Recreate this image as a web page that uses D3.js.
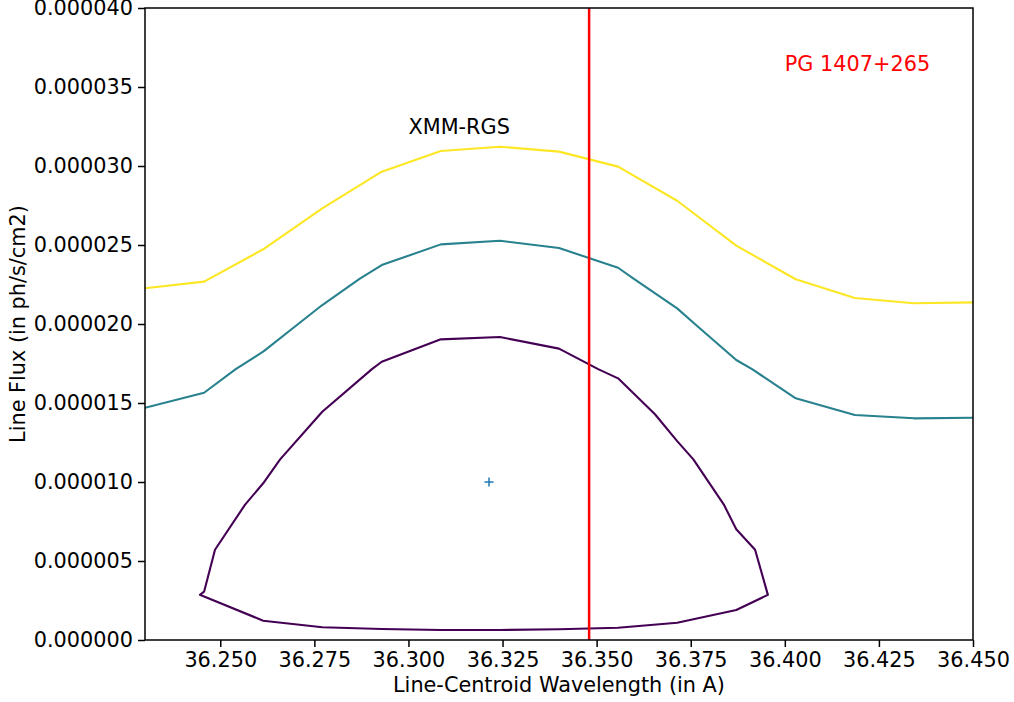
<!DOCTYPE html>
<html>
<head>
<meta charset="utf-8">
<script src="https://cdn.jsdelivr.net/npm/d3@7"></script>
<style>
  html, body { margin: 0; padding: 0; background: #fff; }
  svg { display: block; }
  text { font-family: "DejaVu Sans", sans-serif; }
</style>
</head>
<body>
<svg id="chart" width="1014" height="702"></svg>
<script>
// ---------- data ----------
const xDomain = [36.23, 36.45];
const yDomain = [0, 0.00004];
const xTicks = [36.250, 36.275, 36.300, 36.325, 36.350, 36.375, 36.400, 36.425, 36.450];
const yTicks = [0, 0.000005, 0.00001, 0.000015, 0.00002, 0.000025, 0.00003, 0.000035, 0.00004];

// outer contour (yellow)
const contourOuterX = [36.2300, 36.2457, 36.2614, 36.2771, 36.2929, 36.3086, 36.3243, 36.3400, 36.3557, 36.3714, 36.3871, 36.4029, 36.4186, 36.4343, 36.4500];
const contourOuterY = [2.226e-5, 2.268e-5, 2.473e-5, 2.732e-5, 2.964e-5, 3.095e-5, 3.122e-5, 3.091e-5, 2.996e-5, 2.780e-5, 2.496e-5, 2.283e-5, 2.165e-5, 2.131e-5, 2.137e-5];

// middle contour (teal)
const contourMiddleX = [36.2300, 36.2457, 36.2541, 36.2614, 36.2707, 36.2771, 36.2870, 36.2929, 36.3086, 36.3243, 36.3400, 36.3557, 36.3599, 36.3714, 36.3761, 36.3871, 36.3913, 36.4029, 36.4186, 36.4343, 36.4500];
const contourMiddleY = [1.470e-5, 1.565e-5, 1.714e-5, 1.825e-5, 2.000e-5, 2.120e-5, 2.286e-5, 2.373e-5, 2.504e-5, 2.527e-5, 2.481e-5, 2.356e-5, 2.286e-5, 2.099e-5, 2.000e-5, 1.772e-5, 1.714e-5, 1.530e-5, 1.424e-5, 1.403e-5, 1.407e-5];

// inner contour (purple, closed)
const contourInnerX = [36.2446, 36.2457, 36.2486, 36.2566, 36.2614, 36.2659, 36.2771, 36.2903, 36.2929, 36.3086, 36.3243, 36.3400, 36.3504, 36.3557, 36.3655, 36.3714, 36.3757, 36.3838, 36.3871, 36.3921, 36.3955, 36.3871, 36.3714, 36.3557, 36.3400, 36.3243, 36.3086, 36.2929, 36.2771, 36.2614, 36.2457];
const contourInnerY = [2.857e-6, 3.057e-6, 5.714e-6, 8.571e-6, 9.918e-6, 1.1429e-5, 1.445e-5, 1.7143e-5, 1.761e-5, 1.903e-5, 1.918e-5, 1.844e-5, 1.7143e-5, 1.656e-5, 1.4286e-5, 1.259e-5, 1.1429e-5, 8.571e-6, 7.006e-6, 5.714e-6, 2.857e-6, 1.899e-6, 1.095e-6, 7.78e-7, 6.77e-7, 6.33e-7, 6.33e-7, 6.96e-7, 8.04e-7, 1.222e-6, 2.753e-6];

const bestFitX = [36.3214];
const bestFitY = [1.0e-5];
const refLineX = 36.348;

const labels = [
  { text: "XMM-RGS", x: 36.30, y: 3.2e-5, color: "#000000" },
  { text: "PG 1407+265", x: 36.40, y: 3.6e-5, color: "#ff0000" }
];

// ---------- layout ----------
const FS = "20.8px";
const margin = { left: 145, right: 1014 - 973, top: 8, bottom: 702 - 640 };
const W = 1014, H = 702;
const svg = d3.select("#chart");
const x = d3.scaleLinear().domain(xDomain).range([margin.left, W - margin.right]);
const y = d3.scaleLinear().domain(yDomain).range([H - margin.bottom, margin.top]);

svg.append("defs").append("clipPath").attr("id", "clip")
  .append("rect")
  .attr("x", margin.left).attr("y", margin.top)
  .attr("width", x.range()[1] - x.range()[0])
  .attr("height", y.range()[0] - y.range()[1]);

const plot = svg.append("g").attr("clip-path", "url(#clip)");
const line = d3.line().x(d => x(d[0])).y(d => y(d[1]));
const lineClosed = d3.line().x(d => x(d[0])).y(d => y(d[1])).curve(d3.curveLinearClosed);

const contours = [
  { xs: contourOuterX, ys: contourOuterY, color: "#fde725", closed: false },
  { xs: contourMiddleX, ys: contourMiddleY, color: "#28828e", closed: false },
  { xs: contourInnerX, ys: contourInnerY, color: "#440154", closed: true }
];
contours.forEach(c => {
  const pts = c.xs.map((v, i) => [v, c.ys[i]]);
  plot.append("path")
    .attr("d", c.closed ? lineClosed(pts) : line(pts))
    .attr("fill", "none")
    .attr("stroke", c.color)
    .attr("stroke-width", 2.1)
    .attr("stroke-linejoin", "round");
});

// best-fit marker
bestFitX.forEach((bx, i) => {
  const cx = x(bx), cy = y(bestFitY[i]), s = 4.5;
  plot.append("path")
    .attr("d", `M${cx - s},${cy}H${cx + s}M${cx},${cy - s}V${cy + s}`)
    .attr("stroke", "#1f77b4").attr("stroke-width", 1.5).attr("fill", "none");
});

// vertical reference line
plot.append("line")
  .attr("x1", x(refLineX)).attr("x2", x(refLineX))
  .attr("y1", y.range()[0]).attr("y2", y.range()[1])
  .attr("stroke", "#ff0000").attr("stroke-width", 2.5);

// labels
labels.forEach(l => {
  svg.append("text")
    .attr("x", x(l.x)).attr("y", y(l.y))
    .attr("fill", l.color)
    .attr("font-size", FS)
    .text(l.text);
});

// axes
const xAxis = d3.axisBottom(x).tickValues(xTicks).tickFormat(d3.format(".3f")).tickSizeOuter(0).tickSize(7).tickPadding(5);
const yAxis = d3.axisLeft(y).tickValues(yTicks).tickFormat(d3.format(".6f")).tickSizeOuter(0).tickSize(7).tickPadding(5);

const gx = svg.append("g").attr("transform", `translate(0,${y.range()[0]})`).call(xAxis);
const gy = svg.append("g").attr("transform", `translate(${margin.left},0)`).call(yAxis);
[gx, gy].forEach(g => {
  g.selectAll("text").attr("font-size", FS).attr("fill", "#000").attr("font-family", "DejaVu Sans, sans-serif");
  g.selectAll("line").attr("stroke", "#000").attr("stroke-width", 1.5);
  g.select(".domain").remove();
});

// frame
svg.append("rect")
  .attr("x", margin.left).attr("y", margin.top)
  .attr("width", x.range()[1] - x.range()[0])
  .attr("height", y.range()[0] - y.range()[1])
  .attr("fill", "none").attr("stroke", "#000").attr("stroke-width", 1.5);

// axis titles
svg.append("text")
  .attr("x", (x.range()[0] + x.range()[1]) / 2).attr("y", 692)
  .attr("text-anchor", "middle").attr("font-size", FS)
  .text("Line-Centroid Wavelength (in A)");
svg.append("text")
  .attr("transform", `translate(25,${(y.range()[0] + y.range()[1]) / 2}) rotate(-90)`)
  .attr("text-anchor", "middle").attr("font-size", FS)
  .text("Line Flux (in ph/s/cm2)");
</script>
</body>
</html>
